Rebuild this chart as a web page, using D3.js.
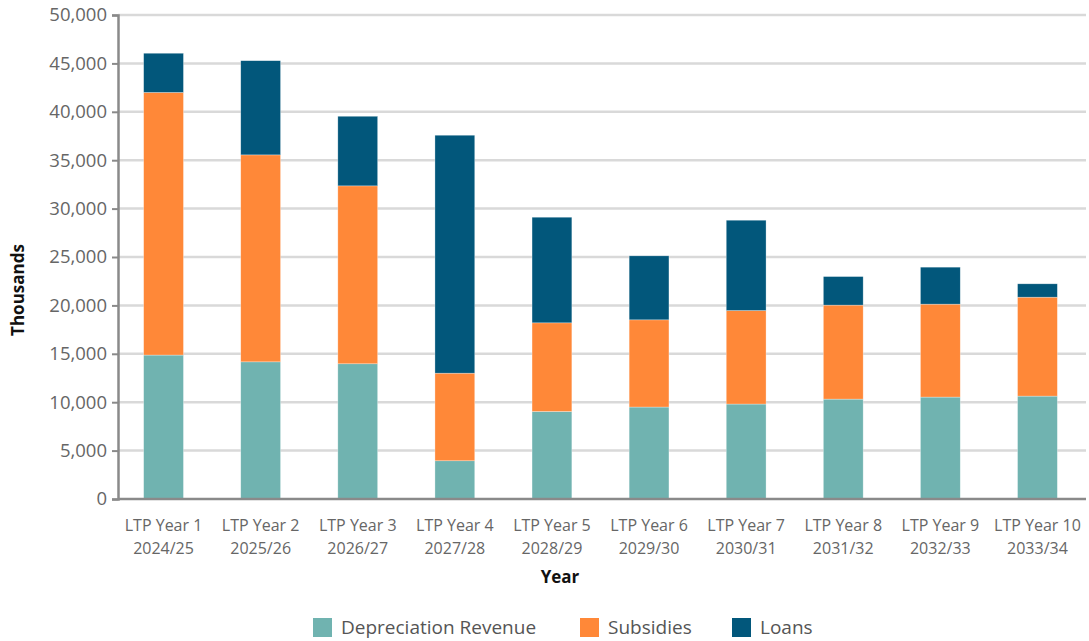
<!DOCTYPE html>
<html>
<head>
<meta charset="utf-8">
<script src="https://cdn.jsdelivr.net/npm/d3@7"></script>
<style>
  body { margin: 0; background: #fff; }
  svg { display: block; font-family: "Open Sans", "Noto Sans", sans-serif; }
</style>
</head>
<body>
<svg id="chart" width="1089" height="641"></svg>
<script>
// Funding sources per LTP year (thousands)
const yearLabels = ["LTP Year 1", "LTP Year 2", "LTP Year 3", "LTP Year 4", "LTP Year 5",
                    "LTP Year 6", "LTP Year 7", "LTP Year 8", "LTP Year 9", "LTP Year 10"];
const periods = ["2024/25", "2025/26", "2026/27", "2027/28", "2028/29",
                 "2029/30", "2030/31", "2031/32", "2032/33", "2033/34"];
const depreciationRevenue = [14870, 14170, 13970, 3950, 9040, 9500, 9810, 10320, 10530, 10630];
const subsidies           = [27130, 21380, 18380, 9050, 9160, 9010, 9660, 9710, 9600, 10220];
const loans               = [4050, 9730, 7190, 24580, 10910, 6610, 9330, 2950, 3820, 1380];
const seriesNames = ["Depreciation Revenue", "Subsidies", "Loans"];
const seriesColors = ["#70b3b0", "#ff8838", "#02577b"];
const yTicks = [0, 5000, 10000, 15000, 20000, 25000, 30000, 35000, 40000, 45000, 50000];

const svg = d3.select("#chart");
const axisX = 118, plotTop = 15, plotBottom = 499, plotRight = 1086;

const rows = yearLabels.map((label, i) => ({
  key: label,
  "Depreciation Revenue": depreciationRevenue[i],
  "Subsidies": subsidies[i],
  "Loans": loans[i]
}));

const x = d3.scaleBand().domain(yearLabels).range([115, plotRight]).paddingInner(0.59).paddingOuter(0.295);
const y = d3.scaleLinear().domain([0, 50000]).range([plotBottom, plotTop]);
const color = d3.scaleOrdinal().domain(seriesNames).range(seriesColors);

// Gridlines
svg.append("g").selectAll("line").data(yTicks.filter(d => d > 0)).join("line")
  .attr("x1", axisX).attr("x2", plotRight)
  .attr("y1", d => y(d)).attr("y2", d => y(d))
  .attr("stroke", "#d9d9d9").attr("stroke-width", 2.5);

// Stacked bars
const stacked = d3.stack().keys(seriesNames)(rows);
svg.append("g").selectAll("g").data(stacked).join("g")
  .attr("fill", d => color(d.key))
  .selectAll("rect").data(d => d).join("rect")
  .attr("x", d => x(d.data.key))
  .attr("width", x.bandwidth())
  .attr("y", d => y(d[1]))
  .attr("height", d => y(d[0]) - y(d[1]))
  .attr("stroke", "rgba(255,255,255,0.5)").attr("stroke-width", 0.6);

// Y axis
const yAxis = svg.append("g").attr("transform", `translate(${axisX},0)`)
  .call(d3.axisLeft(y).tickValues(yTicks).tickFormat(d3.format(",")).tickSize(6).tickPadding(5));
yAxis.select(".domain").attr("stroke", "#8a8a8a").attr("stroke-width", 2.5);
yAxis.selectAll(".tick line").attr("stroke", "#8a8a8a").attr("stroke-width", 2);
yAxis.selectAll("text").attr("fill", "#666").style("font-size", "18.5px")
  .style("font-family", "'Open Sans', sans-serif");

// X axis baseline
svg.append("line").attr("x1", axisX).attr("x2", plotRight).attr("y1", plotBottom).attr("y2", plotBottom)
  .attr("stroke", "#8a8a8a").attr("stroke-width", 2.5);

// X labels (two lines)
const xl = svg.append("g").selectAll("text").data(yearLabels).join("text")
  .attr("x", d => x(d) + x.bandwidth() / 2)
  .attr("text-anchor", "middle")
  .attr("fill", "#666").style("font-size", "16px");
xl.append("tspan").attr("x", d => x(d) + x.bandwidth() / 2).attr("y", 531).text(d => d);
xl.append("tspan").attr("x", d => x(d) + x.bandwidth() / 2).attr("y", 554)
  .text((d, i) => periods[i]);

// Axis titles
svg.append("text").attr("x", 560).attr("y", 583).attr("text-anchor", "middle")
  .attr("fill", "#111").style("font-size", "17px").style("font-weight", "bold").text("Year");
svg.append("text").attr("transform", "translate(24,290) rotate(-90)").attr("text-anchor", "middle")
  .attr("fill", "#111").style("font-size", "17px").style("font-weight", "bold").text("Thousands");

// Legend
const legendX = [313, 580, 732];
const lg = svg.append("g").selectAll("g").data(seriesNames).join("g")
  .attr("transform", (d, i) => `translate(${legendX[i]},618)`);
lg.append("rect").attr("width", 19).attr("height", 19).attr("fill", d => color(d));
lg.append("text").attr("x", 28).attr("y", 16).attr("fill", "#555")
  .style("font-size", "19px").text(d => d);
</script>
</body>
</html>
